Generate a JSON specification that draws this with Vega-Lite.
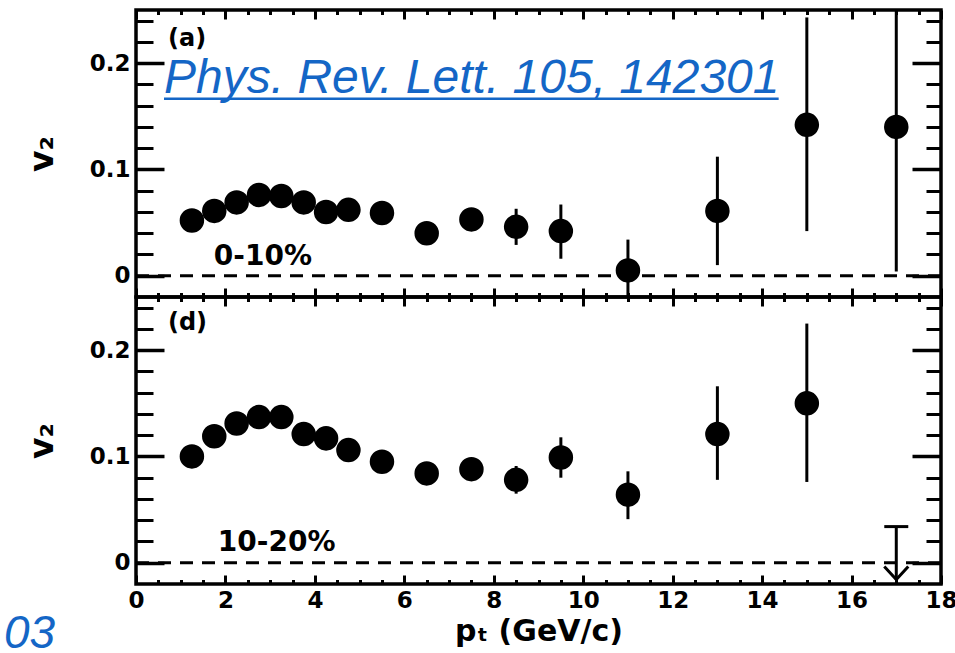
{
  "$schema": "https://vega.github.io/schema/vega-lite/v6.json",
  "padding": {"left": 2, "top": 6, "right": 0, "bottom": 0},
  "autosize": {"type": "pad"},
  "background": "white",
  "spacing": 0,
  "bounds": "flush",
  "config": {
    "view": {"stroke": "black", "strokeWidth": 3.5},
    "axis": {"domain": false, "grid": false, "tickColor": "black", "tickWidth": 3, "labelColor": "black", "titleColor": "black", "labelFont": "DejaVu Sans", "labelFontWeight": "bold", "labelFontSize": 23, "titleFont": "DejaVu Sans", "titleFontWeight": "bold", "titleFontSize": 30}
  },
  "datasets": {
    "a": [
      {"pt": 1.25, "v2": 0.052, "lo": 0.048, "hi": 0.056},
      {"pt": 1.75, "v2": 0.061, "lo": 0.057, "hi": 0.065},
      {"pt": 2.25, "v2": 0.069, "lo": 0.065, "hi": 0.073},
      {"pt": 2.75, "v2": 0.076, "lo": 0.072, "hi": 0.080},
      {"pt": 3.25, "v2": 0.075, "lo": 0.071, "hi": 0.079},
      {"pt": 3.75, "v2": 0.069, "lo": 0.065, "hi": 0.073},
      {"pt": 4.25, "v2": 0.060, "lo": 0.055, "hi": 0.065},
      {"pt": 4.75, "v2": 0.062, "lo": 0.057, "hi": 0.067},
      {"pt": 5.5, "v2": 0.059, "lo": 0.053, "hi": 0.065},
      {"pt": 6.5, "v2": 0.040, "lo": 0.033, "hi": 0.047},
      {"pt": 7.5, "v2": 0.053, "lo": 0.045, "hi": 0.061},
      {"pt": 8.5, "v2": 0.046, "lo": 0.029, "hi": 0.063},
      {"pt": 9.5, "v2": 0.042, "lo": 0.016, "hi": 0.067},
      {"pt": 11, "v2": 0.005, "lo": -0.024, "hi": 0.034},
      {"pt": 13, "v2": 0.061, "lo": 0.010, "hi": 0.112},
      {"pt": 15, "v2": 0.142, "lo": 0.042, "hi": 0.243},
      {"pt": 17, "v2": 0.140, "lo": 0.004, "hi": 0.276}
    ],
    "d": [
      {"pt": 1.25, "v2": 0.100, "lo": 0.096, "hi": 0.104},
      {"pt": 1.75, "v2": 0.119, "lo": 0.115, "hi": 0.123},
      {"pt": 2.25, "v2": 0.131, "lo": 0.127, "hi": 0.135},
      {"pt": 2.75, "v2": 0.137, "lo": 0.133, "hi": 0.141},
      {"pt": 3.25, "v2": 0.137, "lo": 0.133, "hi": 0.141},
      {"pt": 3.75, "v2": 0.121, "lo": 0.117, "hi": 0.125},
      {"pt": 4.25, "v2": 0.117, "lo": 0.112, "hi": 0.122},
      {"pt": 4.75, "v2": 0.106, "lo": 0.101, "hi": 0.111},
      {"pt": 5.5, "v2": 0.095, "lo": 0.089, "hi": 0.101},
      {"pt": 6.5, "v2": 0.084, "lo": 0.077, "hi": 0.091},
      {"pt": 7.5, "v2": 0.088, "lo": 0.080, "hi": 0.096},
      {"pt": 8.5, "v2": 0.078, "lo": 0.065, "hi": 0.091},
      {"pt": 9.5, "v2": 0.099, "lo": 0.080, "hi": 0.118},
      {"pt": 11, "v2": 0.064, "lo": 0.041, "hi": 0.086},
      {"pt": 13, "v2": 0.121, "lo": 0.078, "hi": 0.166},
      {"pt": 15, "v2": 0.150, "lo": 0.076, "hi": 0.225}
    ],
    "dlimit": [
      {"pt": 17, "lim": 0.034, "tip": -0.016, "head": -0.0096}
    ],
    "zero": [{"x0": 0, "x1": 18, "y": 0}]
  },
  "vconcat": [
    {
      "width": 805,
      "height": 287,
      "layer": [
        {
          "data": {"name": "zero"},
          "mark": {"type": "rule", "strokeDash": [13, 9], "strokeWidth": 3, "color": "black"},
          "encoding": {
            "x": {"field": "x0", "type": "quantitative", "scale": {"domain": [0, 18], "nice": false, "zero": false}, "axis": {"orient": "bottom", "values": [0, 2, 4, 6, 8, 10, 12, 14, 16, 18], "tickSize": -9, "labels": false, "title": null}},
            "x2": {"field": "x1"},
            "y": {"field": "y", "type": "quantitative", "scale": {"domain": [-0.02, 0.25], "nice": false, "zero": false}, "axis": {"orient": "left", "values": [0, 0.1, 0.2], "tickSize": -28, "tickWidth": 3.5, "format": "~g", "labelPadding": 34, "title": "v₂", "titleFontSize": 33, "titlePadding": 30}}
          }
        },
        {
          "data": {"name": "a"},
          "mark": {"type": "rule", "strokeWidth": 3, "color": "black", "clip": true},
          "encoding": {
            "x": {"field": "pt", "type": "quantitative", "scale": {"domain": [0, 18], "nice": false, "zero": false}, "axis": {"orient": "bottom", "values": [0.5, 1, 1.5, 2.5, 3, 3.5, 4.5, 5, 5.5, 6.5, 7, 7.5, 8.5, 9, 9.5, 10.5, 11, 11.5, 12.5, 13, 13.5, 14.5, 15, 15.5, 16.5, 17, 17.5], "tickSize": -4.5, "labels": false, "title": null}},
            "y": {"field": "lo", "type": "quantitative", "scale": {"domain": [-0.02, 0.25], "nice": false, "zero": false}, "axis": {"orient": "left", "values": [0.02, 0.04, 0.06, 0.08, 0.12, 0.14, 0.16, 0.18, 0.22, 0.24], "tickSize": -17, "labels": false, "title": null}},
            "y2": {"field": "hi"}
          }
        },
        {
          "data": {"name": "a"},
          "mark": {"type": "circle", "size": 600, "color": "black", "opacity": 1},
          "encoding": {
            "x": {"field": "pt", "type": "quantitative", "scale": {"domain": [0, 18], "nice": false, "zero": false}, "axis": {"orient": "top", "values": [0, 2, 4, 6, 8, 10, 12, 14, 16, 18], "tickSize": -9, "labels": false, "title": null}},
            "y": {"field": "v2", "type": "quantitative", "scale": {"domain": [-0.02, 0.25], "nice": false, "zero": false}, "axis": {"orient": "right", "values": [0, 0.1, 0.2], "tickSize": -29, "tickWidth": 3.5, "labels": false, "title": null}}
          }
        },
        {
          "data": {"values": [{"x": 0.715, "y": 0.216, "label": "(a)"}]},
          "mark": {"type": "text", "font": "DejaVu Sans", "fontWeight": "bold", "fontSize": 24, "align": "left", "baseline": "alphabetic", "color": "black"},
          "encoding": {
            "x": {"field": "x", "type": "quantitative", "scale": {"domain": [0, 18], "nice": false, "zero": false}, "axis": {"orient": "top", "values": [0.5, 1, 1.5, 2.5, 3, 3.5, 4.5, 5, 5.5, 6.5, 7, 7.5, 8.5, 9, 9.5, 10.5, 11, 11.5, 12.5, 13, 13.5, 14.5, 15, 15.5, 16.5, 17, 17.5], "tickSize": -4.5, "labels": false, "title": null}},
            "y": {"field": "y", "type": "quantitative", "scale": {"domain": [-0.02, 0.25], "nice": false, "zero": false}, "axis": {"orient": "right", "values": [0.02, 0.04, 0.06, 0.08, 0.12, 0.14, 0.16, 0.18, 0.22, 0.24], "tickSize": -15, "labels": false, "title": null}},
            "text": {"field": "label"}
          }
        },
        {
          "data": {"values": [{"x": 1.74, "y": 0.0104, "label": "0-10%"}]},
          "mark": {"type": "text", "font": "DejaVu Sans", "fontWeight": "bold", "fontSize": 28, "align": "left", "baseline": "alphabetic", "color": "black"},
          "encoding": {
            "x": {"field": "x", "type": "quantitative", "scale": {"domain": [0, 18], "nice": false, "zero": false}, "axis": null},
            "y": {"field": "y", "type": "quantitative", "scale": {"domain": [-0.02, 0.25], "nice": false, "zero": false}, "axis": null},
            "text": {"field": "label"}
          }
        },
        {
          "data": {"values": [{"x": 0.626, "y": 0.172, "label": "Phys. Rev. Lett. 105, 142301"}]},
          "mark": {"type": "text", "font": "Liberation Sans", "fontStyle": "italic", "fontSize": 48, "align": "left", "baseline": "alphabetic", "color": "#1466C6"},
          "encoding": {
            "x": {"field": "x", "type": "quantitative", "scale": {"domain": [0, 18], "nice": false, "zero": false}, "axis": null},
            "y": {"field": "y", "type": "quantitative", "scale": {"domain": [-0.02, 0.25], "nice": false, "zero": false}, "axis": null},
            "text": {"field": "label"}
          }
        },
        {
          "data": {"values": [{"x0": 0.626, "x1": 14.37, "y": 0.1665}]},
          "mark": {"type": "rule", "strokeWidth": 2.5, "color": "#1466C6"},
          "encoding": {
            "x": {"field": "x0", "type": "quantitative", "scale": {"domain": [0, 18], "nice": false, "zero": false}, "axis": null},
            "x2": {"field": "x1"},
            "y": {"field": "y", "type": "quantitative", "scale": {"domain": [-0.02, 0.25], "nice": false, "zero": false}, "axis": null}
          }
        }
      ],
      "resolve": {"axis": {"x": "independent", "y": "independent"}}
    },
    {
      "width": 805,
      "height": 287,
      "layer": [
        {
          "data": {"name": "zero"},
          "mark": {"type": "rule", "strokeDash": [13, 9], "strokeWidth": 3, "color": "black"},
          "encoding": {
            "x": {"field": "x0", "type": "quantitative", "scale": {"domain": [0, 18], "nice": false, "zero": false}, "axis": {"orient": "bottom", "values": [0, 2, 4, 6, 8, 10, 12, 14, 16, 18], "tickSize": -9, "labelPadding": 14, "labelFlush": false, "title": "pₜ (GeV/c)", "titlePadding": 4}},
            "x2": {"field": "x1"},
            "y": {"field": "y", "type": "quantitative", "scale": {"domain": [-0.02, 0.25], "nice": false, "zero": false}, "axis": {"orient": "left", "values": [0, 0.1, 0.2], "tickSize": -28, "tickWidth": 3.5, "format": "~g", "labelPadding": 34, "title": "v₂", "titleFontSize": 33, "titlePadding": 30}}
          }
        },
        {
          "data": {"name": "d"},
          "mark": {"type": "rule", "strokeWidth": 3, "color": "black", "clip": true},
          "encoding": {
            "x": {"field": "pt", "type": "quantitative", "scale": {"domain": [0, 18], "nice": false, "zero": false}, "axis": {"orient": "bottom", "values": [0.5, 1, 1.5, 2.5, 3, 3.5, 4.5, 5, 5.5, 6.5, 7, 7.5, 8.5, 9, 9.5, 10.5, 11, 11.5, 12.5, 13, 13.5, 14.5, 15, 15.5, 16.5, 17, 17.5], "tickSize": -4.5, "labels": false, "title": null}},
            "y": {"field": "lo", "type": "quantitative", "scale": {"domain": [-0.02, 0.25], "nice": false, "zero": false}, "axis": {"orient": "left", "values": [0.02, 0.04, 0.06, 0.08, 0.12, 0.14, 0.16, 0.18, 0.22, 0.24], "tickSize": -17, "labels": false, "title": null}},
            "y2": {"field": "hi"}
          }
        },
        {
          "data": {"name": "d"},
          "mark": {"type": "circle", "size": 600, "color": "black", "opacity": 1},
          "encoding": {
            "x": {"field": "pt", "type": "quantitative", "scale": {"domain": [0, 18], "nice": false, "zero": false}, "axis": {"orient": "top", "values": [0, 2, 4, 6, 8, 10, 12, 14, 16, 18], "tickSize": -9, "labels": false, "title": null}},
            "y": {"field": "v2", "type": "quantitative", "scale": {"domain": [-0.02, 0.25], "nice": false, "zero": false}, "axis": {"orient": "right", "values": [0, 0.1, 0.2], "tickSize": -29, "tickWidth": 3.5, "labels": false, "title": null}}
          }
        },
        {
          "data": {"values": [{"x": 0.715, "y": 0.219, "label": "(d)"}]},
          "mark": {"type": "text", "font": "DejaVu Sans", "fontWeight": "bold", "fontSize": 24, "align": "left", "baseline": "alphabetic", "color": "black"},
          "encoding": {
            "x": {"field": "x", "type": "quantitative", "scale": {"domain": [0, 18], "nice": false, "zero": false}, "axis": {"orient": "top", "values": [0.5, 1, 1.5, 2.5, 3, 3.5, 4.5, 5, 5.5, 6.5, 7, 7.5, 8.5, 9, 9.5, 10.5, 11, 11.5, 12.5, 13, 13.5, 14.5, 15, 15.5, 16.5, 17, 17.5], "tickSize": -4.5, "labels": false, "title": null}},
            "y": {"field": "y", "type": "quantitative", "scale": {"domain": [-0.02, 0.25], "nice": false, "zero": false}, "axis": {"orient": "right", "values": [0.02, 0.04, 0.06, 0.08, 0.12, 0.14, 0.16, 0.18, 0.22, 0.24], "tickSize": -15, "labels": false, "title": null}},
            "text": {"field": "label"}
          }
        },
        {
          "data": {"values": [{"x": 1.83, "y": 0.011, "label": "10-20%"}]},
          "mark": {"type": "text", "font": "DejaVu Sans", "fontWeight": "bold", "fontSize": 28, "align": "left", "baseline": "alphabetic", "color": "black"},
          "encoding": {
            "x": {"field": "x", "type": "quantitative", "scale": {"domain": [0, 18], "nice": false, "zero": false}, "axis": null},
            "y": {"field": "y", "type": "quantitative", "scale": {"domain": [-0.02, 0.25], "nice": false, "zero": false}, "axis": null},
            "text": {"field": "label"}
          }
        },
        {
          "data": {"name": "dlimit"},
          "mark": {"type": "rule", "strokeWidth": 3, "color": "black"},
          "encoding": {
            "x": {"field": "pt", "type": "quantitative", "scale": {"domain": [0, 18], "nice": false, "zero": false}, "axis": null},
            "y": {"field": "lim", "type": "quantitative", "scale": {"domain": [-0.02, 0.25], "nice": false, "zero": false}, "axis": null},
            "y2": {"field": "tip"}
          }
        },
        {
          "data": {"name": "dlimit"},
          "mark": {"type": "tick", "orient": "horizontal", "size": 24, "thickness": 3, "color": "black", "opacity": 1},
          "encoding": {
            "x": {"field": "pt", "type": "quantitative", "scale": {"domain": [0, 18], "nice": false, "zero": false}, "axis": null},
            "y": {"field": "lim", "type": "quantitative", "scale": {"domain": [-0.02, 0.25], "nice": false, "zero": false}, "axis": null}
          }
        },
        {
          "data": {"name": "dlimit"},
          "mark": {"type": "point", "shape": "M-1,-0.54L0,0.54L1,-0.54", "filled": false, "size": 576, "strokeWidth": 3, "color": "black", "opacity": 1},
          "encoding": {
            "x": {"field": "pt", "type": "quantitative", "scale": {"domain": [0, 18], "nice": false, "zero": false}, "axis": null},
            "y": {"field": "head", "type": "quantitative", "scale": {"domain": [-0.02, 0.25], "nice": false, "zero": false}, "axis": null}
          }
        },
        {
          "data": {"values": [{"x": -1.81, "y": -0.0806, "label": "03"}]},
          "mark": {"type": "text", "font": "Liberation Sans", "fontStyle": "italic", "fontSize": 46, "align": "right", "baseline": "alphabetic", "color": "#1466C6"},
          "encoding": {
            "x": {"field": "x", "type": "quantitative", "scale": {"domain": [0, 18], "nice": false, "zero": false}, "axis": null},
            "y": {"field": "y", "type": "quantitative", "scale": {"domain": [-0.02, 0.25], "nice": false, "zero": false}, "axis": null},
            "text": {"field": "label"}
          }
        }
      ],
      "resolve": {"axis": {"x": "independent", "y": "independent"}}
    }
  ]
}
